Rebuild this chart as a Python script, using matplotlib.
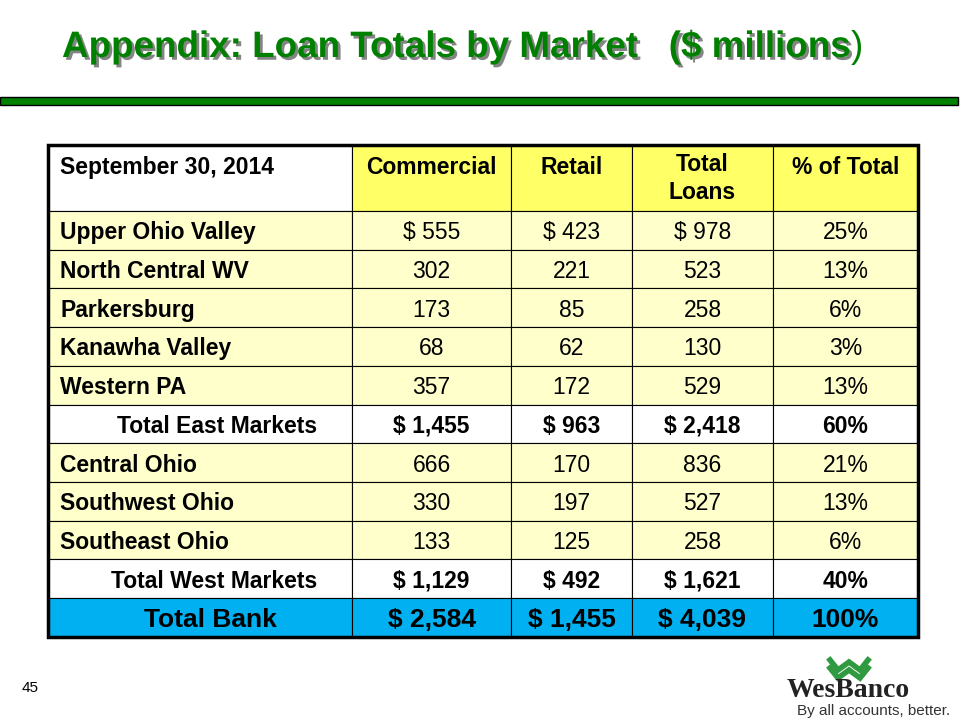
import matplotlib

matplotlib.use("Agg")

import matplotlib.pyplot as plt
from matplotlib.patches import Rectangle
import matplotlib.patheffects as pe

# table data ($ millions)
header = ["September 30, 2014", "Commercial", "Retail", "Total\nLoans", "% of Total"]
markets = ["Upper Ohio Valley", "North Central WV", "Parkersburg", "Kanawha Valley",
           "Western PA", "Total East Markets", "Central Ohio", "Southwest Ohio",
           "Southeast Ohio", "Total West Markets", "Total Bank"]
commercial = [555, 302, 173, 68, 357, 1455, 666, 330, 133, 1129, 2584]
retail = [423, 221, 85, 62, 172, 963, 170, 197, 125, 492, 1455]
total_loans = [978, 523, 258, 130, 529, 2418, 836, 527, 258, 1621, 4039]
pct_total = [25, 13, 6, 3, 13, 60, 21, 13, 6, 40, 100]
# row kinds: 0 = market, 1 = subtotal, 2 = grand total
kind = [0, 0, 0, 0, 0, 1, 0, 0, 0, 1, 2]
dollar_rows = [0, 5, 9, 10]

SANS = ["Liberation Sans", "DejaVu Sans"]

col_x = [48, 352, 511, 632, 773, 918]
top, head_h, row_h = 145, 66, 38.7

fig = plt.figure(figsize=(9.6, 7.2), dpi=100)
ax = fig.add_axes([0, 0, 1, 1])
ax.set_xlim(0, 960)
ax.set_ylim(720, 0)
ax.axis("off")

# title
green = "#008000"
t = ax.text(62, 57, "Appendix: Loan Totals by Market   ($ millions", color=green,
            fontsize=26.5, fontweight="bold", family=SANS, va="baseline", ha="left",
            path_effects=[pe.withSimplePatchShadow(offset=(2, -2), shadow_rgbFace="#333333", alpha=0.6)])
fig.canvas.draw()
bb = t.get_window_extent().transformed(ax.transData.inverted())
ax.text(bb.x1 + 1, 57, ")", color=green, fontsize=26.5, family=SANS,
        va="baseline", ha="left")

# green rule
ax.add_patch(Rectangle((0, 97), 958, 8, facecolor="#008000", edgecolor="black", lw=1))

# header row
fills = {0: "#ffffcc", 1: "#ffffff", 2: "#00b0f0"}
for j in range(5):
    ax.add_patch(Rectangle((col_x[j], top), col_x[j + 1] - col_x[j], head_h,
                           facecolor="#ffffff" if j == 0 else "#ffff66",
                           edgecolor="black", lw=0.8))
ax.text(60, 165, header[0], fontsize=16.5, fontweight="bold", family=SANS,
        ha="left", va="center_baseline")
for j in range(1, 5):
    cx = (col_x[j] + col_x[j + 1]) / 2
    if "\n" in header[j]:
        ax.text(cx, 153, header[j], fontsize=16.5, fontweight="bold", family=SANS,
                ha="center", va="top", linespacing=1.3)
    else:
        ax.text(cx, 165, header[j], fontsize=16.5, fontweight="bold", family=SANS,
                ha="center", va="center_baseline")

# body rows
for i, name in enumerate(markets):
    y0 = top + head_h + i * row_h
    yc = y0 + row_h / 2
    k = kind[i]
    for j in range(5):
        ax.add_patch(Rectangle((col_x[j], y0), col_x[j + 1] - col_x[j], row_h,
                               facecolor=fills[k], edgecolor="black", lw=0.8))
    pre = "$ " if i in dollar_rows else ""
    vals = [pre + f"{commercial[i]:,}", pre + f"{retail[i]:,}",
            pre + f"{total_loans[i]:,}", f"{pct_total[i]}%"]
    if k == 2:
        fs, fw = 19, "bold"
    elif k == 1:
        fs, fw = 16.5, "bold"
    else:
        fs, fw = 16.5, "normal"
    if k == 0:
        ax.text(60, yc, name, fontsize=16.5, fontweight="bold", family=SANS,
                ha="left", va="center_baseline")
    elif k == 1:
        ax.text(317, yc, name, fontsize=16.5, fontweight="bold", family=SANS,
                ha="right", va="center_baseline")
    else:
        ax.text(210, yc, name, fontsize=fs, fontweight="bold", family=SANS,
                ha="center", va="center_baseline")
    for j, v in enumerate(vals):
        cx = (col_x[j + 1] + col_x[j + 2]) / 2
        ax.text(cx, yc, v, fontsize=fs, fontweight=fw, family=SANS,
                ha="center", va="center_baseline")

bottom = top + head_h + len(markets) * row_h
ax.add_patch(Rectangle((col_x[0], top), col_x[-1] - col_x[0], bottom - top,
                       facecolor="none", edgecolor="black", lw=2.5))

# page number
ax.text(22, 686, "45", fontsize=11, family=SANS, ha="left", va="center_baseline")

# logo
lg = "#2f9a3f"
ax.plot([830, 838, 849, 860, 868], [660, 670, 662, 670, 660], color=lg, lw=4,
        solid_joinstyle="miter")
ax.plot([830, 838, 849, 860, 868], [668, 678, 670, 678, 668], color=lg, lw=4,
        solid_joinstyle="miter")
ax.text(848, 697, "WesBanco", fontsize=20, fontweight="bold", family=["Liberation Serif"],
        color="#222222", ha="center", va="baseline")
ax.text(950, 710, "By all accounts, better.", fontsize=11, family=SANS,
        color="#333333", ha="right", va="center_baseline")

fig.savefig("out.png", dpi=100)
